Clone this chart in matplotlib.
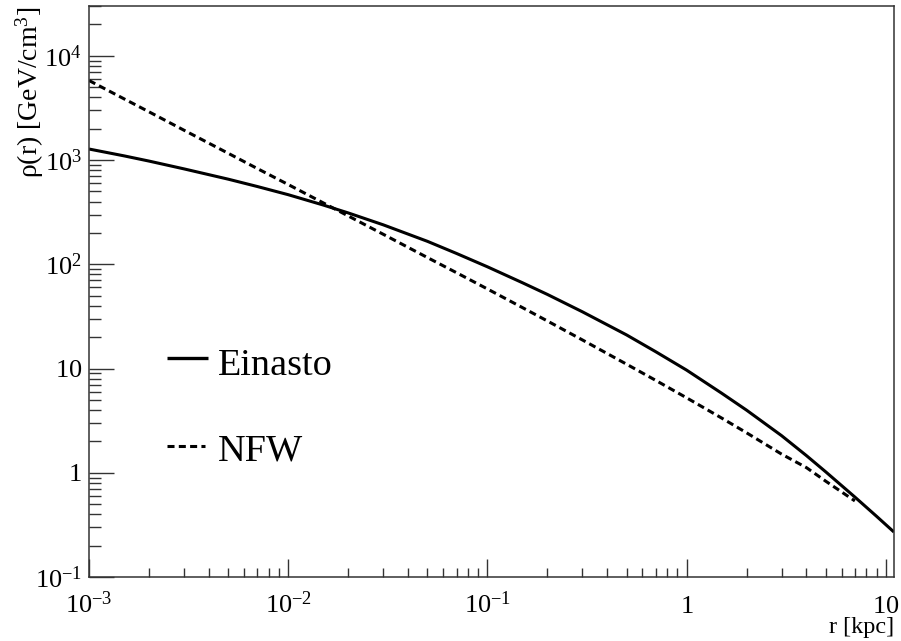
import numpy as np
import matplotlib
matplotlib.use('Agg')
import matplotlib.pyplot as plt

plt.rcParams['font.family'] = ['Liberation Serif', 'DejaVu Serif']
plt.rcParams['mathtext.fontset'] = 'custom'
plt.rcParams['mathtext.rm'] = 'Liberation Serif'
plt.rcParams['mathtext.it'] = 'Liberation Serif:italic'

# Perfis de densidade de matéria escura (GeV/cm^3) em função do raio (kpc)
r_einasto = [0.001, 0.0015, 0.002, 0.003, 0.005, 0.007, 0.01, 0.015, 0.02, 0.03,
             0.05, 0.07, 0.1, 0.15, 0.2, 0.3, 0.5, 0.7, 1, 1.5, 2, 3, 4, 5, 7, 9, 11]
rho_einasto = [1275, 1096, 977, 822, 655, 557, 465, 370, 311, 239,
               166, 127, 94.6, 66.5, 51.4, 35.0, 21.0, 14.5, 9.66, 5.8, 3.99, 2.27,
               1.46, 1.02, 0.585, 0.382, 0.270]

r_nfw = [0.001, 0.0015, 0.002, 0.003, 0.005, 0.007, 0.01, 0.015, 0.02, 0.03,
         0.05, 0.07, 0.1, 0.15, 0.2, 0.3, 0.5, 0.7, 1, 1.5, 2, 3, 4, 5, 7]
rho_nfw = [5790, 3860, 2900, 1930, 1160, 828, 582, 388, 291, 194,
           116, 83, 58, 38.4, 28.6, 18.8, 11.0, 7.7, 5.24, 3.35, 2.42, 1.51,
           1.12, 0.83, 0.537]

x_ticks = [1e-3, 1e-2, 1e-1, 1, 10]
x_labels = ['$10^{-3}$', '$10^{-2}$', '$10^{-1}$', '$1$', '$10$']
y_ticks = [1e-1, 1, 10, 1e2, 1e3, 1e4]
y_labels = ['$10^{-1}$', '$1$', '$10$', '$10^{2}$', '$10^{3}$', '$10^{4}$']

fig = plt.figure(figsize=(9.01, 6.41), dpi=100)
ax = fig.add_axes([0.0988, 0.0998, 0.8934, 0.8908])

lw = 2.2
ax.plot(r_einasto, rho_einasto, color='black', lw=lw, solid_capstyle='butt')
ax.plot(r_nfw, rho_nfw, color='black', lw=lw, dashes=(2.3, 1.4))

ax.set_xscale('log')
ax.set_yscale('log')
ax.set_xlim(1e-3, 11)
ax.set_ylim(0.1, 3e4)

ax.set_xticks(x_ticks)
ax.set_xticklabels(x_labels)
ax.set_yticks(y_ticks)
ax.set_yticklabels(y_labels)

frame = '#333333'
for s in ax.spines.values():
    s.set_color(frame)
    s.set_linewidth(1.1)

ax.tick_params(axis='x', which='major', direction='in', length=13, width=1.0,
               color=frame, pad=26, labelsize=19, top=False)
ax.tick_params(axis='x', which='minor', direction='in', length=6.5, width=1.0,
               color=frame, top=False)
ax.tick_params(axis='y', which='major', direction='in', length=18, width=1.0,
               color=frame, pad=5, labelsize=19, right=False)
ax.tick_params(axis='y', which='minor', direction='in', length=8.6, width=1.0,
               color=frame, right=False)
for lab in ax.get_xticklabels():
    lab.set_verticalalignment('baseline')

# titulos dos eixos
fig.text(894 / 901, 1 - 628 / 641, 'r [kpc]', ha='right', va='center', fontsize=17.5)
fig.text(30 / 901, 1 - 7 / 641, 'ρ(r) [GeV/cm$^{3}$]', rotation=90,
         ha='center', va='top', fontsize=20)

# legenda
ax.plot([0.0969, 0.1478], [0.3835, 0.3835], transform=ax.transAxes,
        color='black', lw=2.4, solid_capstyle='butt')
ax.plot([0.0969, 0.1441], [0.2294, 0.2294], transform=ax.transAxes,
        color='black', lw=lw, dashes=(2.3, 1.4))
ax.text(0.160, 0.3538, 'Einasto', transform=ax.transAxes, fontsize=27.5,
        va='baseline', ha='left')
ax.text(0.160, 0.2049, 'NFW', transform=ax.transAxes, fontsize=27.5,
        va='baseline', ha='left')

fig.savefig('out.png', dpi=100)
